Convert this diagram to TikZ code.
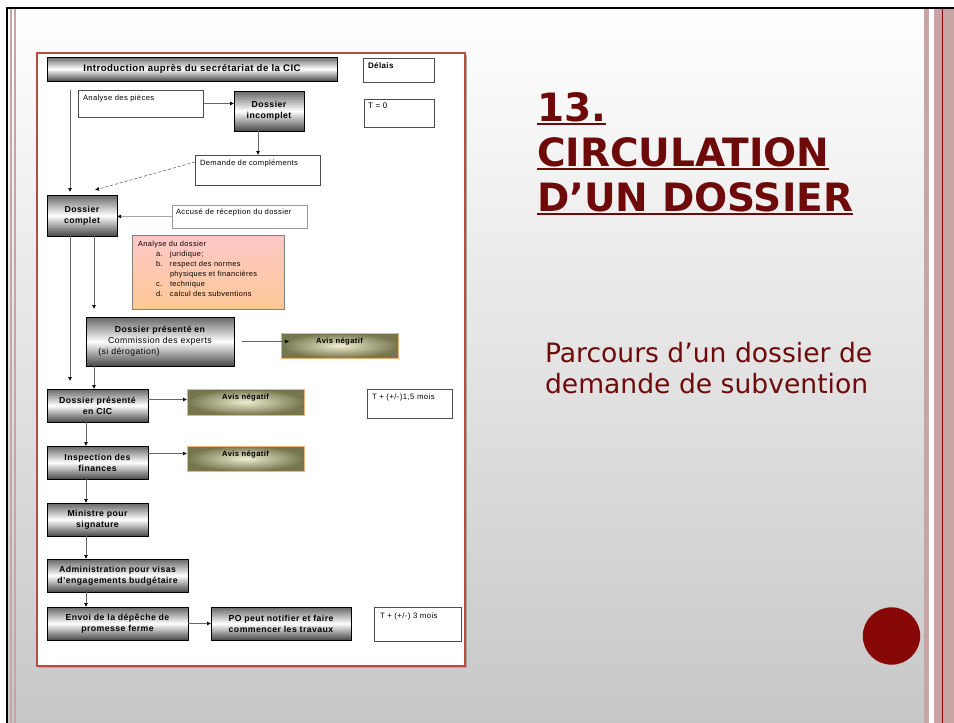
\documentclass[tikz,border=0pt]{standalone}
\usepackage{fontspec}
\setmainfont{Liberation Sans}
\newfontfamily\titlefont{DejaVu Sans}
\newfontfamily\chartfont{Liberation Sans}[LetterSpace=5]
\usetikzlibrary{arrows.meta}

\definecolor{slidered}{RGB}{110,10,10}
\definecolor{dotred}{RGB}{136,8,8}
\definecolor{stripe}{RGB}{200,165,165}
\definecolor{framered}{RGB}{185,75,65}
\definecolor{olivedark}{RGB}{118,118,78}
\definecolor{olivelight}{RGB}{238,238,210}
\definecolor{avisborder}{RGB}{240,180,120}
\definecolor{pinkfill}{RGB}{255,200,200}
\definecolor{orangefill}{RGB}{252,200,150}

\newcommand{\listitem}[2]{\hspace*{18pt}\makebox[14pt][l]{#1}#2}

\tikzset{
  every node/.style={inner sep=0pt, outer sep=0pt},
  graybox/.style={draw=black, line width=0.8pt, anchor=north west,
    top color=black!60, bottom color=black!72, middle color=white,
    align=center, font=\chartfont\bfseries\fontsize{8.7}{11}\selectfont},
  whitebox/.style={draw=black!70, line width=0.6pt, fill=white, anchor=north west},
  avisbox/.style={draw=avisborder, line width=0.8pt, anchor=north west,
    inner color=olivelight, outer color=olivedark,
    minimum width=117pt, minimum height=25pt},
  toplab/.style={anchor=north west, inner sep=5pt, align=left,
    font=\chartfont\fontsize{7.6}{10}\selectfont},
  avislab/.style={anchor=north, inner sep=5pt,
    font=\chartfont\bfseries\fontsize{7.6}{8}\selectfont},
  arr/.style={draw=black!60, line width=0.6pt, -{Latex[length=4pt,width=4pt,color=black]}},
  titletext/.style={anchor=base west, text=slidered, font=\titlefont\bfseries\fontsize{39}{44}\selectfont},
  titleline/.style={draw=slidered, line width=2.5pt},
}

\begin{document}
\begin{tikzpicture}[x=1pt,y=-1pt]
\useasboundingbox (0,0) rectangle (954,723);

% slide background
\fill[white] (0,0) rectangle (954,723);
\shade[top color=white, middle color=black!5, bottom color=black!22] (7,8) rectangle (924,723);
\fill[stripe] (10,9) rectangle (12,723);
\fill[stripe] (13.5,9) rectangle (15.5,723);
\fill[stripe] (924,9) rectangle (929,723);
\fill[stripe] (934,9) rectangle (954,723);
\draw[dotred, line width=0.8pt] (942,9) -- (942,723);
\draw[black, line width=2pt] (6,8) -- (954,8);
\draw[black, line width=2pt] (7,7) -- (7,723);
\fill[dotred] (891.5,636) circle (28.7pt);

% title
\node[titletext] (num) at (537,121) {13.};
\node[titletext] (circ) at (537,166) {CIRCULATION};
\node[titletext] (dun) at (537,211) {D’UN DOSSIER};
\draw[titleline] ([yshift=-3pt]num.base west) -- ([yshift=-3pt]num.base east);
\draw[titleline] ([yshift=-3pt]circ.base west) -- ([yshift=-3pt]circ.base east);
\draw[titleline] ([yshift=-3pt]dun.base west) -- ([yshift=-3pt]dun.base east);

\node[anchor=north west, align=left, text=slidered, font=\titlefont\fontsize{26.6}{31}\selectfont]
  (sub) at (545,342) {Parcours d’un dossier de\\demande de subvention};

% chart frame
\fill[black!35] (39,55) rectangle (467,668);
\draw[framered, line width=2pt, fill=white] (37,53) rectangle (465,666);

% boxes
\node[graybox, minimum width=290pt, minimum height=24pt, font=\chartfont\bfseries\fontsize{9.6}{11}\selectfont]
  (intro) at (47,57) {Introduction auprès du secrétariat de la CIC};
\node[whitebox, minimum width=71pt, minimum height=24pt,
  label={[toplab, font=\chartfont\bfseries\fontsize{8}{9}\selectfont]north west:Délais}] (delais) at (363,58) {};
\node[whitebox, minimum width=125pt, minimum height=27pt,
  label={[toplab]north west:Analyse des pièces}] (pieces) at (78,90) {};
\node[graybox, minimum width=70pt, minimum height=40pt] (incomplet) at (234,91) {Dossier\\incomplet};
\node[whitebox, minimum width=70pt, minimum height=28pt,
  label={[toplab, inner sep=4pt, font=\chartfont\fontsize{8}{9}\selectfont]north west:T = 0}] (tzero) at (364,99) {};
\node[whitebox, minimum width=125pt, minimum height=30pt,
  label={[toplab]north west:Demande de compléments}] (complements) at (195,155) {};
\node[graybox, minimum width=70pt, minimum height=41pt] (complet) at (47,195) {Dossier\\complet};
\node[whitebox, draw=black!40, minimum width=135pt, minimum height=23pt,
  label={[toplab, inner sep=4pt]north west:Accusé de réception du dossier}] (accuse) at (172,205) {};
\node[draw=black!50, line width=0.6pt, anchor=north west, minimum width=152pt, minimum height=74pt,
  top color=pinkfill, bottom color=orangefill,
  label={[toplab, inner sep=6pt, font=\chartfont\fontsize{7.4}{10}\selectfont]north west:Analyse du dossier\\
    \listitem{a.}{juridique;}\\
    \listitem{b.}{respect des normes}\\
    \listitem{}{physiques et financières}\\
    \listitem{c.}{technique}\\
    \listitem{d.}{calcul des subventions}}] (analyse) at (132,235) {};
\node[graybox, minimum width=148pt, minimum height=49pt] (experts) at (86,317)
  {Dossier présenté en\\\mdseries Commission des experts\\\mdseries(si dérogation)\hspace*{62pt}};
\node[avisbox, label={[avislab]north:Avis négatif}] (avis1) at (281,333) {};
\node[graybox, minimum width=101pt, minimum height=33pt] (cic) at (47,389) {Dossier présenté\\en CIC};
\node[avisbox, minimum height=26pt, label={[avislab]north:Avis négatif}] (avis2) at (187,389) {};
\node[whitebox, minimum width=85pt, minimum height=29pt,
  label={[toplab, inner sep=5pt, font=\chartfont\fontsize{7.8}{9}\selectfont]north west:T + (+/-)1,5 mois}] (tmois1) at (367,389) {};
\node[graybox, minimum width=101pt, minimum height=33pt] (inspection) at (47,446) {Inspection des\\finances};
\node[avisbox, label={[avislab]north:Avis négatif}] (avis3) at (187,446) {};
\node[graybox, minimum width=101pt, minimum height=33pt] (ministre) at (47,503) {Ministre pour\\signature};
\node[graybox, minimum width=141pt, minimum height=33pt] (admin) at (47,559) {Administration pour visas\\d’engagements budgétaire};
\node[graybox, minimum width=141pt, minimum height=33pt] (envoi) at (47,607) {Envoi de la dépêche de\\promesse ferme};
\node[graybox, minimum width=140pt, minimum height=33pt] (po) at (211,607) {PO peut notifier et faire\\commencer les travaux};
\node[whitebox, minimum width=87pt, minimum height=34pt,
  label={[toplab, inner sep=6pt, font=\chartfont\fontsize{7.8}{9}\selectfont]north west:T + (+/-) 3 mois}] (tmois2) at (374,607) {};

% connectors
\draw[arr] ([xshift=23pt,yshift=-9pt]intro.south west) -- ([xshift=23pt,yshift=3pt]complet.north west);
\draw[arr] (pieces.east) -- (pieces.east -| incomplet.west);
\draw[arr] ([xshift=-11pt]incomplet.south) -- ([xshift=-11pt]incomplet.south |- complements.north);
\draw[arr, densely dashed] ([yshift=8pt]complements.west) -- ([xshift=-22pt,yshift=5pt]complet.north east);
\draw[arr, draw=black!35] (accuse.west) -- (accuse.west -| complet.east);
\draw[arr] ([xshift=23pt]complet.south west) -- ([xshift=23pt,yshift=8pt]cic.north west);
\draw[arr] ([xshift=47pt]complet.south west) -- ([xshift=8pt,yshift=8pt]experts.north west);
\draw[arr] ([xshift=8pt]experts.south west) -- ([xshift=47pt]cic.north west);
\draw[arr] ([xshift=8pt]experts.east) -- ([xshift=8pt]experts.east -| avis1.west);
\draw[arr] ([yshift=6pt]cic.east) -- ([yshift=6pt]cic.east -| avis2.west);
\draw[arr] ([xshift=39pt]cic.south west) -- ([xshift=39pt]inspection.north west);
\draw[arr] ([yshift=9pt]inspection.east) -- ([yshift=9pt]inspection.east -| avis3.west);
\draw[arr] ([xshift=39pt]inspection.south west) -- ([xshift=39pt]ministre.north west);
\draw[arr] ([xshift=39pt]ministre.south west) -- ([xshift=39pt]admin.north west);
\draw[arr] ([xshift=39pt]admin.south west) -- ([xshift=39pt]envoi.north west);
\draw[arr] (envoi.east) -- (po.west);
\end{tikzpicture}
\end{document}
